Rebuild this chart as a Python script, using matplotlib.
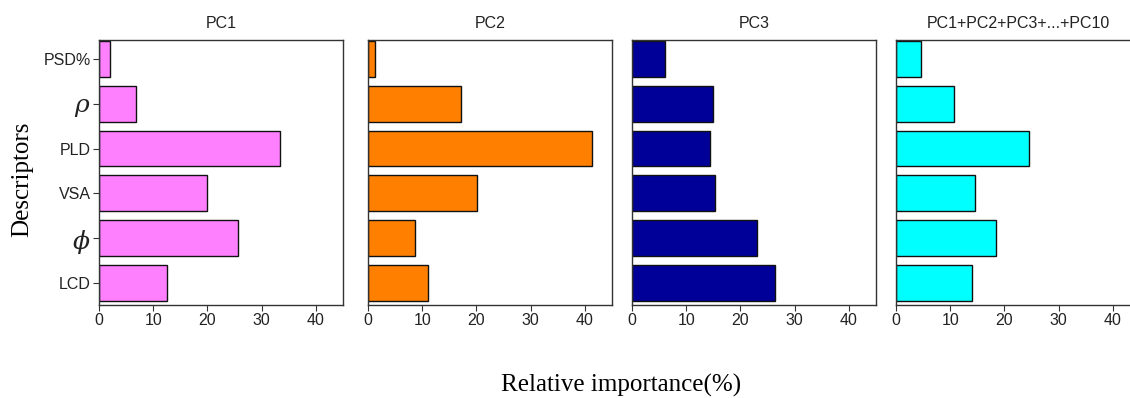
import matplotlib
matplotlib.use("Agg")
import matplotlib.pyplot as plt

# descriptors, bottom to top
descriptors = ["LCD", "$\\phi$", "VSA", "PLD", "$\\rho$", "PSD%"]
titles = ["PC1", "PC2", "PC3", "PC1+PC2+PC3+...+PC10"]
pc1 = [12.5, 25.7, 20.0, 33.3, 6.8, 2.0]
pc2 = [11.0, 8.6, 20.1, 41.4, 17.2, 1.3]
pc3 = [26.4, 23.0, 15.3, 14.4, 14.9, 6.1]
pc_all = [14.0, 18.4, 14.5, 24.6, 10.7, 4.6]
colors = ["#FF80FF", "#FF8000", "#000099", "#00FFFF"]

W, H = 1130, 398
fig = plt.figure(figsize=(W / 100, H / 100), dpi=100)
plt.rcParams["font.family"] = ["Liberation Sans", "DejaVu Sans"]
plt.rcParams["mathtext.fontset"] = "dejavuserif"

lefts = [99, 368, 632, 896]
ax_w = 244
top, bottom = 40, 305

for i, vals in enumerate([pc1, pc2, pc3, pc_all]):
    ax = fig.add_axes([lefts[i] / W, (H - bottom) / H, ax_w / W, (bottom - top) / H])
    ypos = range(len(descriptors))
    ax.barh(ypos, vals, height=0.8, color=colors[i], edgecolor="#111111", linewidth=1.0)
    ax.set_xlim(0, 45)
    ax.set_ylim(-0.49, 5.42)
    ax.set_xticks([0, 10, 20, 30, 40])
    ax.tick_params(axis="x", labelsize=11.5, length=4, width=0.8, color="#333333", labelcolor="#222222", pad=2)
    if i == 0:
        ax.set_yticks(list(ypos))
        ax.set_yticklabels(descriptors)
        for lab in ax.get_yticklabels():
            if lab.get_text().startswith("$"):
                lab.set_fontsize(18)
            else:
                lab.set_fontsize(11.5)
        ax.tick_params(axis="y", length=4, width=0.8, color="#333333", labelcolor="#222222", pad=2)
    else:
        ax.set_yticks([])
    for sp in ax.spines.values():
        sp.set_color("#333333")
        sp.set_linewidth(1.0)
    ax.set_title(titles[i], fontsize=11.5, pad=9, color="#222222")

fig.text(22 / W, 1 - 179 / H, "Descriptors", rotation=90, ha="center", va="center",
         fontsize=18, family="Liberation Serif")
fig.text(621 / W, 1 - 385 / H, "Relative importance(%)", ha="center", va="center",
         fontsize=18, family="Liberation Serif")

fig.savefig("out.png", dpi=100)
